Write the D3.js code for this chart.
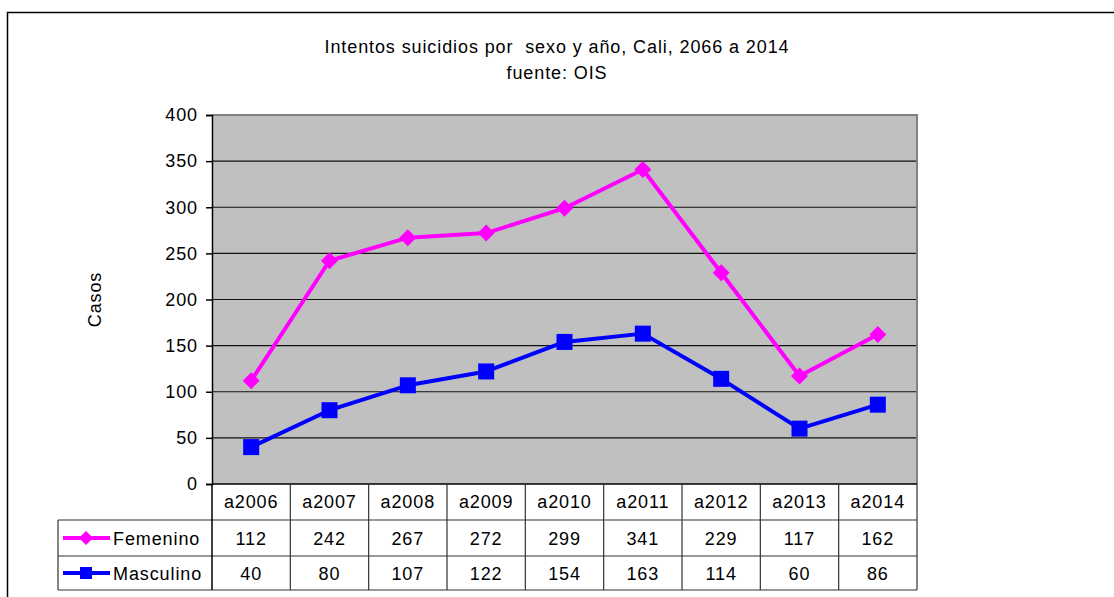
<!DOCTYPE html>
<html><head><meta charset="utf-8">
<script src="https://cdn.jsdelivr.net/npm/d3@7"></script>
<style>
html,body{margin:0;padding:0;background:#fff;}
text{font-family:"Liberation Sans",Arial,sans-serif;fill:#000;}
</style></head>
<body>
<svg id="c" width="1114" height="597"></svg>
<script>
const categories = ["a2006","a2007","a2008","a2009","a2010","a2011","a2012","a2013","a2014"];
const femenino = [112,242,267,272,299,341,229,117,162];
const masculino = [40,80,107,122,154,163,114,60,86];
const yTicks = [0,50,100,150,200,250,300,350,400];
const seriesNames = ["Femenino","Masculino"];
const seriesColors = ["#ff00ff","#0000ff"];
const titleLines = ["Intentos suicidios por  sexo y año, Cali, 2066 a 2014","fuente: OIS"];
const yTitle = "Casos";

const FS = 18, LS = 0.9;
const svg = d3.select("#c");
const L = 212, R = 917, T = 115, B = 484;
const rowH = 36, tableLeft = 58;
const x = d3.scaleBand().domain(categories).range([L, R]).padding(0);
const y = d3.scaleLinear().domain([0, 400]).range([B, T]);

// outer border
svg.append("rect").attr("x",7.5).attr("y",12.5).attr("width",1200).attr("height",700)
  .attr("fill","none").attr("stroke","#000").attr("stroke-width",1.5);

// title
svg.selectAll("text.title").data(titleLines).join("text").attr("class","title")
  .attr("x",557).attr("y",(d,i)=>53+i*26).attr("text-anchor","middle")
  .attr("font-size",FS).attr("letter-spacing",LS).style("white-space","pre").text(d=>d);

// plot area
svg.append("rect").attr("x",L).attr("y",T).attr("width",R-L).attr("height",B-T).attr("fill","#c0c0c0");
svg.selectAll("line.grid").data(yTicks.filter(v=>v>0 && v<400)).join("line").attr("class","grid")
  .attr("x1",L).attr("x2",R).attr("y1",d=>y(d)).attr("y2",d=>y(d)).attr("stroke","#111").attr("stroke-width",1.2);
svg.append("path").attr("d",`M${L},${T}H${R}V${B}`).attr("fill","none").attr("stroke","#808080").attr("stroke-width",2);

// y axis
const yAxis = d3.axisLeft(y).tickValues(yTicks).tickSize(6).tickPadding(8);
const ga = svg.append("g").attr("transform",`translate(${L},0)`).call(yAxis);
ga.select(".domain").attr("stroke","#000").attr("stroke-width",1.5);
ga.selectAll(".tick line").attr("stroke","#000").attr("stroke-width",1.5);
ga.selectAll(".tick text").attr("font-size",FS).attr("letter-spacing",LS)
  .attr("font-family","Liberation Sans, Arial, sans-serif").attr("fill","#000");

svg.append("text").attr("transform",`translate(101,${(T+B)/2}) rotate(-90)`)
  .attr("text-anchor","middle").attr("font-size",FS).attr("letter-spacing",LS).text(yTitle);

// lines + markers
const series = [femenino, masculino];
const line = d3.line().x((d,i)=>x(categories[i])+x.bandwidth()/2).y(d=>y(d));
series.forEach((s,si)=>{
  svg.append("path").datum(s).attr("d",line).attr("fill","none")
    .attr("stroke",seriesColors[si]).attr("stroke-width",4).attr("stroke-linejoin","round");
});
svg.selectAll("rect.dia").data(femenino).join("rect").attr("class","dia")
  .attr("x",-6).attr("y",-6).attr("width",12).attr("height",12)
  .attr("transform",(d,i)=>`translate(${x(categories[i])+x.bandwidth()/2},${y(d)}) rotate(45)`)
  .attr("fill",seriesColors[0]);
svg.selectAll("rect.sq").data(masculino).join("rect").attr("class","sq")
  .attr("x",(d,i)=>x(categories[i])+x.bandwidth()/2-8).attr("y",d=>y(d)-8)
  .attr("width",16).attr("height",16).attr("fill",seriesColors[1]);

// data table
const tb = svg.append("g");
const rowsY = [B, B+rowH, B+2*rowH, B+2*rowH+34];
tb.append("line").attr("x1",L).attr("x2",R).attr("y1",rowsY[0]).attr("y2",rowsY[0]).attr("stroke","#000").attr("stroke-width",1.5);
[1,2,3].forEach(k=>{
  tb.append("line").attr("x1",tableLeft).attr("x2",R).attr("y1",rowsY[k]).attr("y2",rowsY[k]).attr("stroke","#333").attr("stroke-width",1.2);
});
const bounds = categories.map(c=>x(c)).concat([R]);
bounds.forEach((bx,i)=>{
  tb.append("line").attr("x1",bx).attr("x2",bx).attr("y1",rowsY[0]).attr("y2",rowsY[3])
    .attr("stroke", i===0?"#000":"#333").attr("stroke-width",i===0?1.5:1.2);
});
tb.append("line").attr("x1",tableLeft).attr("x2",tableLeft).attr("y1",rowsY[1]).attr("y2",rowsY[3]).attr("stroke","#333").attr("stroke-width",1.2);
tb.selectAll("text.hdr").data(categories).join("text").attr("class","hdr")
  .attr("x",d=>x(d)+x.bandwidth()/2).attr("y",rowsY[0]+24).attr("text-anchor","middle")
  .attr("font-size",FS).attr("letter-spacing",LS).text(d=>d);
series.forEach((s,si)=>{
  const cy = (rowsY[si+1]+rowsY[si+2])/2;
  tb.selectAll(`text.v${si}`).data(s).join("text").attr("class",`v${si}`)
    .attr("x",(d,i)=>x(categories[i])+x.bandwidth()/2).attr("y",cy+6.5).attr("text-anchor","middle")
    .attr("font-size",FS).attr("letter-spacing",LS).text(d=>d);
  tb.append("line").attr("x1",63).attr("x2",110).attr("y1",cy).attr("y2",cy).attr("stroke",seriesColors[si]).attr("stroke-width",4);
  if(si===0){
    tb.append("rect").attr("x",86-5).attr("y",cy-5).attr("width",10).attr("height",10)
      .attr("transform",`rotate(45,86,${cy})`).attr("fill",seriesColors[si]);
  } else {
    tb.append("rect").attr("x",86-6).attr("y",cy-6).attr("width",12).attr("height",12).attr("fill",seriesColors[si]);
  }
  tb.append("text").attr("x",113).attr("y",cy+6.5).attr("font-size",FS).attr("letter-spacing",LS).text(seriesNames[si]);
});
</script>
</body></html>
